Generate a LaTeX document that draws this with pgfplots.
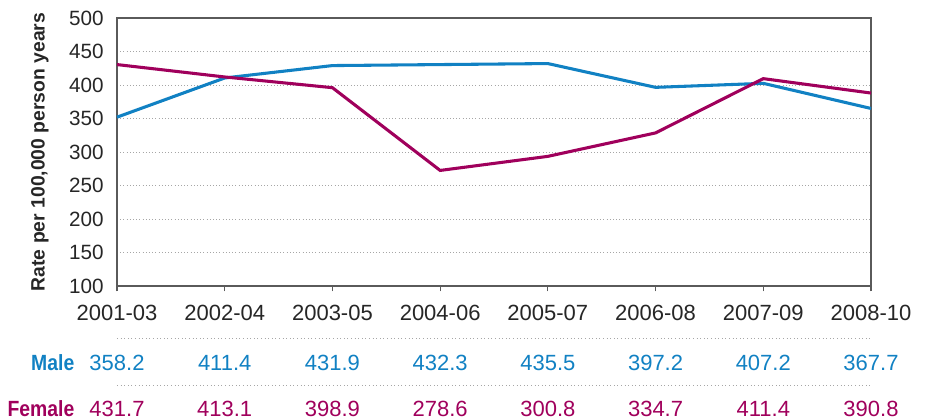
\documentclass[border=0pt]{standalone}
\usepackage{pgfplots}
\pgfplotsset{compat=1.18}
\usepackage{pgfplotstable}
\usepackage{fontspec}
\setmainfont{Liberation Sans}
\newfontfamily\condfont{Liberation Sans}[FakeStretch=0.88]
\definecolor{maleblue}{RGB}{17,129,195}
\definecolor{femmag}{RGB}{160,0,92}
\definecolor{axgray}{RGB}{90,90,90}

\pgfplotstableread{
x male female
0 352 430.5
1 410.5 412
2 429 396
3 430.5 272.5
4 432 293.5
5 396.5 328.5
6 402.5 409.5
7 365 388
}\rates

\newcommand{\lblfont}{\fontsize{16.5}{19}\selectfont}
\newcommand{\ylblfont}{\fontsize{15.5}{18}\selectfont}
\begin{document}
\begin{tikzpicture}
\useasboundingbox (0,0) rectangle (696.75pt,314.25pt);
\begin{axis}[
  at={(87.75pt,99.75pt)}, anchor=south west,
  scale only axis, width=565.5pt, height=201pt,
  xmin=0, xmax=7, ymin=100, ymax=500,
  xtick={0,...,7},
  xticklabels={2001-03,2002-04,2003-05,2004-06,2005-07,2006-08,2007-09,2008-10},
  ytick={100,150,...,500},
  xtick pos=bottom, ytick pos=left,
  tick align=outside,
  major tick length=4pt,
  xtick style={axgray, line width=0.8pt},
  ytick style={draw=none},
  axis line style={axgray, line width=0.9pt},
  ymajorgrids,
  major grid style={gray!70, dotted, line width=0.7pt},
  /pgf/number format/assume math mode=true,
  xticklabel style={font=\lblfont, text=black!85, yshift=-7pt},
  yticklabel style={font=\ylblfont, text=black!85, xshift=-2.5pt},
  ylabel={Rate per 100,000 person years},
  ylabel style={font=\bfseries\fontsize{14.5}{17}\selectfont, text=black!85,
    at={(axis description cs:0,0.5)}, anchor=center, yshift=57.75pt},
  clip=false,
]
\addplot[maleblue, line width=2.3pt] table[x=x, y=male] {\rates};
\addplot[femmag, line width=2.3pt] table[x=x, y=female] {\rates};

\draw[gray!70, dotted, line width=0.7pt] ([yshift=-39pt]rel axis cs:0,0) -- ([yshift=-39pt]rel axis cs:1,0);
\draw[gray!70, dotted, line width=0.7pt] ([yshift=-74.25pt]rel axis cs:0,0) -- ([yshift=-74.25pt]rel axis cs:1,0);

\node[anchor=east, text=maleblue, font=\condfont\bfseries\fontsize{16.5}{19}\selectfont] at ([xshift=-28.5pt,yshift=-57.75pt]rel axis cs:0,0) {Male};
\node[anchor=east, text=femmag, font=\condfont\bfseries\fontsize{16.5}{19}\selectfont] at ([xshift=-28.5pt,yshift=-92.25pt]rel axis cs:0,0) {Female};

\foreach \i/\v in {0/358.2,1/411.4,2/431.9,3/432.3,4/435.5,5/397.2,6/407.2,7/367.7}{
  \edef\tmp{\noexpand\node[text=maleblue, font=\noexpand\lblfont] at ([yshift=-57.75pt]axis cs:\i,100) {\v};}
  \tmp
}
\foreach \i/\v in {0/431.7,1/413.1,2/398.9,3/278.6,4/300.8,5/334.7,6/411.4,7/390.8}{
  \edef\tmp{\noexpand\node[text=femmag, font=\noexpand\lblfont] at ([yshift=-92.25pt]axis cs:\i,100) {\v};}
  \tmp
}
\end{axis}
\end{tikzpicture}
\end{document}
